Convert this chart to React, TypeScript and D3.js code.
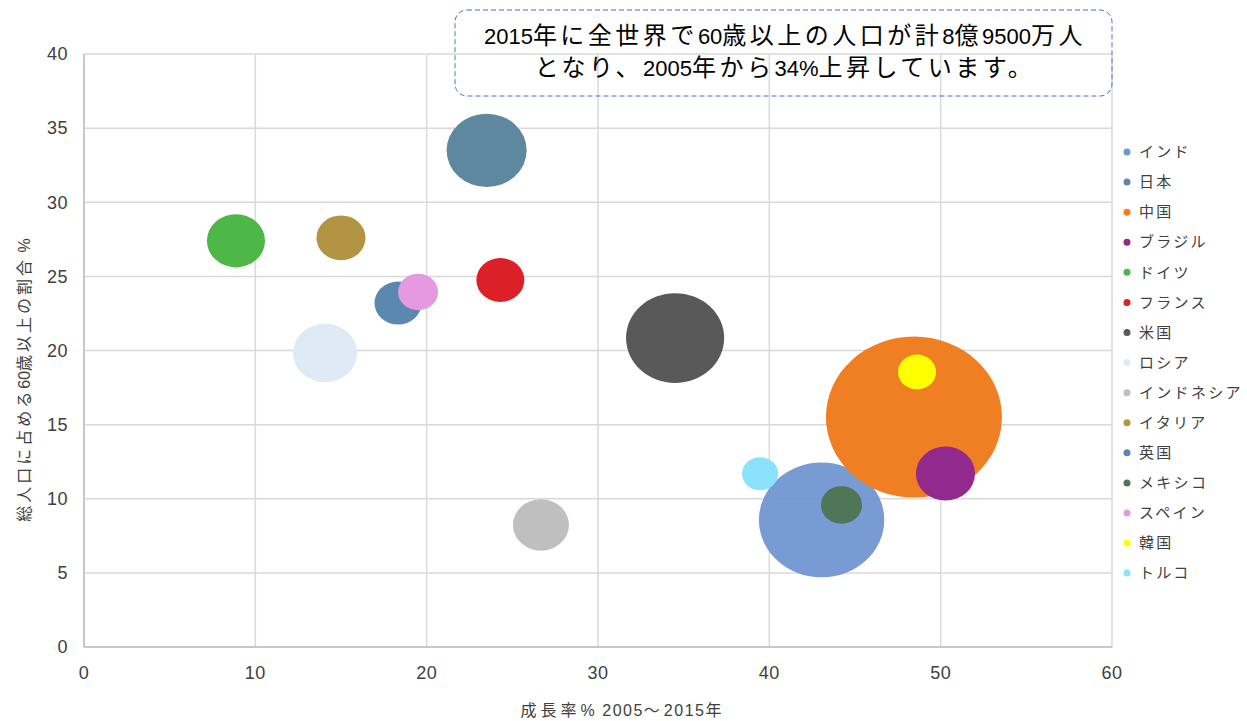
import * as d3 from "d3";

// series (legend order = draw order)
const countries = [
  "インド", "日本", "中国", "ブラジル", "ドイツ", "フランス", "米国", "ロシア",
  "インドネシア", "イタリア", "英国", "メキシコ", "スペイン", "韓国", "トルコ",
];
// growth % 2005-2015
const growth = [43.05, 23.5, 48.44, 50.28, 8.87, 24.3, 34.5, 14.07, 26.67, 15.0, 18.33, 44.21, 19.5, 48.62, 39.46];
// share of population aged 60+ (%)
const share60 = [8.57, 33.5, 15.51, 11.7, 27.4, 24.75, 20.84, 19.83, 8.23, 27.6, 23.2, 9.58, 23.95, 18.55, 11.69];
// population aged 60+ (millions) -> bubble size
const pop60 = [107, 43.7, 211, 23.8, 23, 15.7, 65.6, 28, 21.4, 16.4, 15.1, 11.5, 10.9, 9.9, 8.9];
const colors = [
  "#7196d2", "#5e88a0", "#f07e22", "#922a8d", "#4db747", "#dc2027", "#595959", "#deeaf6",
  "#bfbfbf", "#b39443", "#5b88ae", "#4f7656", "#e59ae0", "#ffff00", "#8be3fb",
];

const xTicks = [0, 10, 20, 30, 40, 50, 60];
const yTicks = [0, 5, 10, 15, 20, 25, 30, 35, 40];

const W = 1247;
const H = 721;
const PLOT = { left: 84, right: 1112, top: 54, bottom: 647 };
const FONT = "'Liberation Sans', Arial, 'Noto Sans CJK JP', sans-serif";

// CJK glyphs in the original are set wider than latin digits
const CJK = /[\u3000-\u30ff\u4e00-\u9fff\uff00-\uffef]/;
function runs(s: string, cjkSp: number, latSp: number, cjkSize?: number) {
  const out: { t: string; cjk: boolean }[] = [];
  for (const ch of s) {
    const cjk = CJK.test(ch);
    const last = out[out.length - 1];
    if (last && last.cjk === cjk) last.t += ch;
    else out.push({ t: ch, cjk });
  }
  return out.map((r, i) => (
    <tspan key={i} letterSpacing={r.cjk ? cjkSp : latSp} fontSize={r.cjk ? cjkSize : undefined}>
      {r.t}
    </tspan>
  ));
}

export default function App() {
  const x = d3.scaleLinear().domain([0, 60]).range([PLOT.left, PLOT.right]);
  const y = d3.scaleLinear().domain([0, 40]).range([PLOT.bottom, PLOT.top]);
  const r = d3.scaleSqrt().domain([0, 211]).range([0, 88]);

  return (
    <svg width={W} height={H} style={{ position: "absolute", left: 0, top: 0 }} fontFamily={FONT}>
      <rect width={W} height={H} fill="white" />
      {/* grid */}
      {yTicks.map((t) => (
        <line key={"gy" + t} x1={PLOT.left} x2={PLOT.right} y1={y(t)} y2={y(t)} stroke="#d9d9d9" strokeWidth={1.5} />
      ))}
      {xTicks.map((t) => (
        <line key={"gx" + t} x1={x(t)} x2={x(t)} y1={PLOT.top} y2={PLOT.bottom} stroke="#d9d9d9" strokeWidth={1.5} />
      ))}
      <line x1={PLOT.left} x2={PLOT.left} y1={PLOT.top} y2={PLOT.bottom} stroke="#bfbfbf" strokeWidth={1.5} />
      <line x1={PLOT.left} x2={PLOT.right} y1={PLOT.bottom} y2={PLOT.bottom} stroke="#bfbfbf" strokeWidth={1.5} />

      {/* bubbles */}
      {countries.map((c, i) => (
        <ellipse
          key={c}
          cx={x(growth[i])}
          cy={y(share60[i])}
          rx={r(pop60[i])}
          ry={r(pop60[i]) * 0.915}
          fill={colors[i]}
          fillOpacity={i === 0 ? 0.95 : 1}
        />
      ))}

      {/* tick labels */}
      {yTicks.map((t) => (
        <text key={"ty" + t} x={68} y={y(t)} dy="0.35em" textAnchor="end" fontSize={18} fill="#404040" letterSpacing={0.5}>
          {t}
        </text>
      ))}
      {xTicks.map((t) => (
        <text key={"tx" + t} x={x(t)} y={679} textAnchor="middle" fontSize={18} fill="#404040" letterSpacing={0.5}>
          {t}
        </text>
      ))}

      {/* axis titles */}
      <text x={623} y={716} textAnchor="middle" fontSize={16} fill="#404040">
        {runs("成長率% 2005〜2015年", 4, 1.5)}
      </text>
      <text transform={`translate(30,${380}) rotate(-90)`} textAnchor="middle" fontSize={16} fill="#404040">
        {runs("総人口に占める60歳以上の割合 %", 3, 0)}
      </text>

      {/* legend */}
      {countries.map((c, i) => (
        <g key={"lg" + c} transform={`translate(1127,${152 + i * 30.08})`}>
          <circle r={3.5} fill={colors[i]} />
          <text x={12} dy="0.35em" fontSize={15} fill="#404040">
            {runs(c, 2.3, 0)}
          </text>
        </g>
      ))}

      {/* annotation */}
      <rect x={455} y={10} width={657} height={86} rx={12} ry={12} fill="none" stroke="#4472c4" strokeWidth={1} strokeDasharray="5,3" />
      <text x={785} y={44} textAnchor="middle" fontSize={22} fill="#000">
        {runs("2015年に全世界で60歳以上の人口が計8億9500万人", 3.5, 0, 24)}
      </text>
      <text x={785} y={76} textAnchor="middle" fontSize={22} fill="#000">
        {runs("となり、2005年から34%上昇しています。", 3.5, 0, 24)}
      </text>
    </svg>
  );
}
